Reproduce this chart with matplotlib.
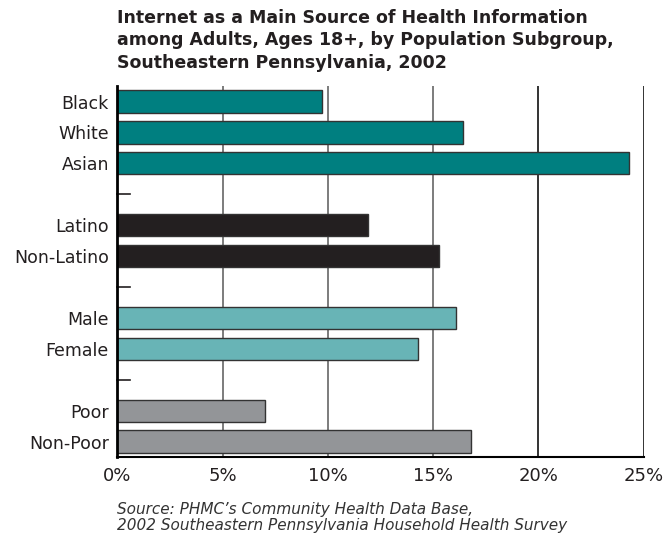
import numpy as np
import matplotlib.pyplot as plt

plt.rcParams['font.family'] = ['DejaVu Sans']

# subgroups listed top to bottom, None marks the spacer between groups
labels = ['Black', 'White', 'Asian', None,
          'Latino', 'Non-Latino', None,
          'Male', 'Female', None,
          'Poor', 'Non-Poor']
values = [9.7, 16.4, 24.3, None,
          11.9, 15.3, None,
          16.1, 14.3, None,
          7.0, 16.8]
colors = ['#007f80', '#007f80', '#007f80', None,
          '#231f20', '#231f20', None,
          '#68b4b6', '#68b4b6', None,
          '#939598', '#939598']

xticks = [0, 5, 10, 15, 20, 25]

fig = plt.figure(figsize=(6.65, 5.38), dpi=100)
ax = fig.add_axes([0.1764, 0.1505, 0.7916, 0.6895])

pos = np.arange(len(labels))
for p, v, c in zip(pos, values, colors):
    if v is None:
        continue
    ax.barh(p, v, height=0.72, color=c, edgecolor='#333333', linewidth=1.0, zorder=3)

ax.set_xlim(0, 25)
ax.set_ylim(len(labels) - 0.5, -0.5)

# vertical gridlines, lighter for the first three
for x in xticks[1:]:
    col = '#666666' if x < 20 else '#111111'
    ax.axvline(x, color=col, linewidth=1.2, zorder=1)

for s in ['top', 'right']:
    ax.spines[s].set_visible(False)
ax.spines['left'].set_linewidth(2.0)
ax.spines['left'].set_zorder(4)
ax.spines['bottom'].set_linewidth(1.5)

ax.set_xticks(xticks)
ax.set_xticklabels(['%d%%' % x for x in xticks], fontsize=13, color='#231f20')
ax.tick_params(axis='x', length=0, pad=7)

# labels for bars, short inward ticks at the spacers
ax.set_yticks(pos)
ax.set_yticklabels([l if l else '' for l in labels], fontsize=12.5, color='#231f20')
ax.tick_params(axis='y', length=0, pad=6)
for p, l in zip(pos, labels):
    if l is None:
        ax.plot([0, 0.6], [p, p], color='#231f20', linewidth=1.2, zorder=4, clip_on=False)

fig.text(0.176, 0.984,
         'Internet as a Main Source of Health Information\n'
         'among Adults, Ages 18+, by Population Subgroup,\n'
         'Southeastern Pennsylvania, 2002',
         ha='left', va='top', fontsize=12.5, fontweight='bold',
         color='#231f20', linespacing=1.33)

fig.text(0.176, 0.038,
         "Source: PHMC\u2019s Community Health Data Base,\n"
         "2002 Southeastern Pennsylvania Household Health Survey",
         ha='left', va='center', fontsize=11, style='italic',
         color='#333333', linespacing=1.15)

fig.savefig('out.png', dpi=100)
